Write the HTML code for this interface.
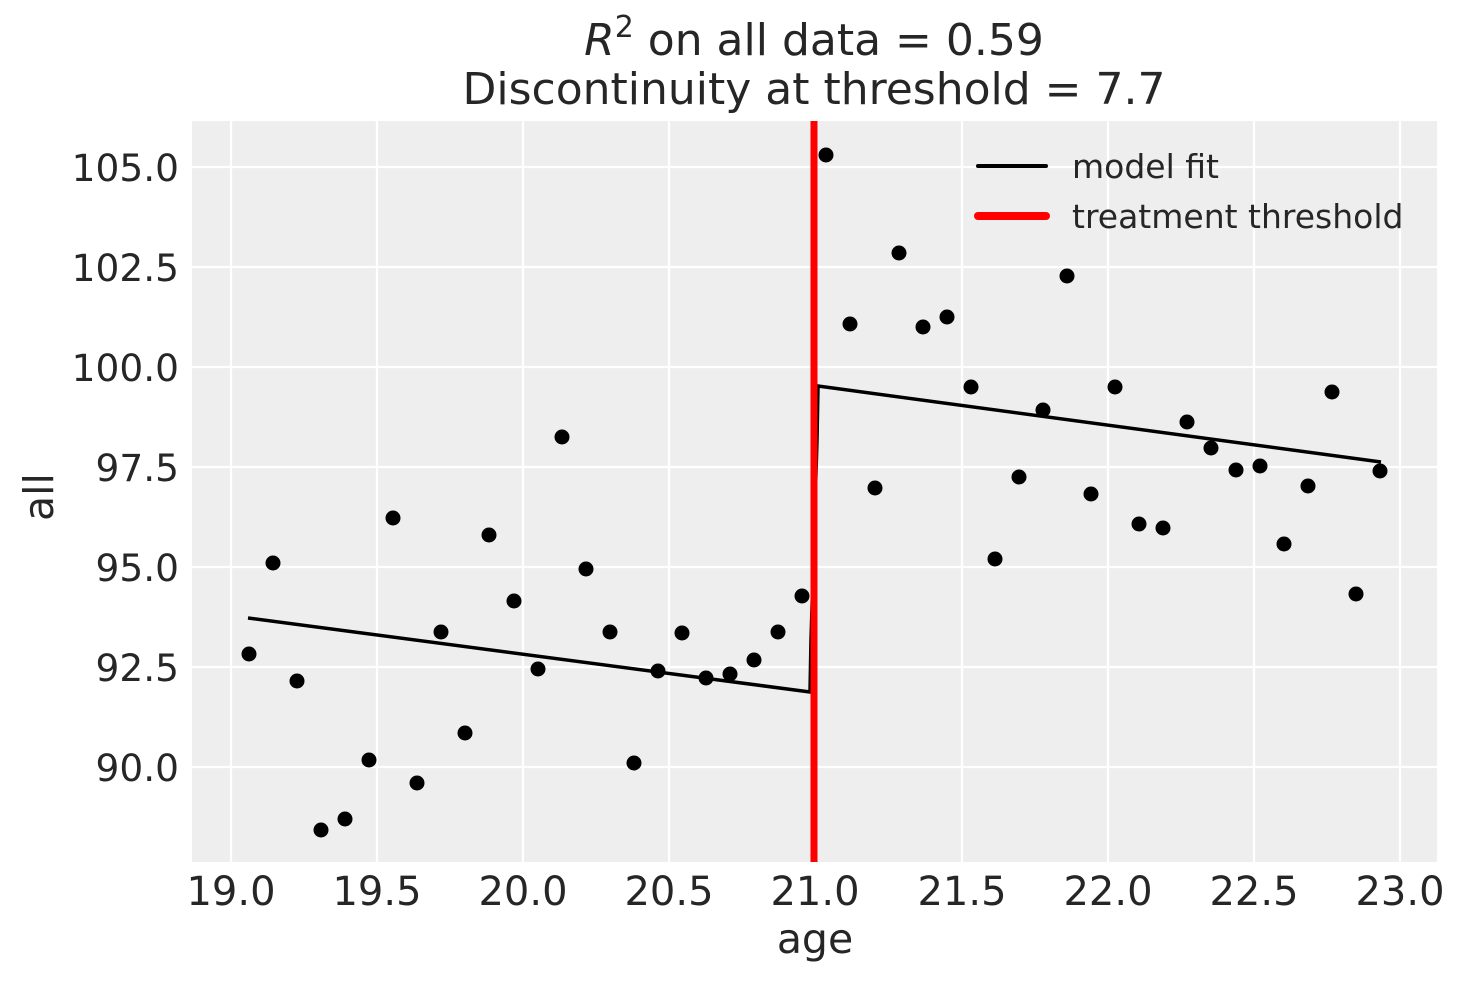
<!DOCTYPE html>
<html><head><meta charset="utf-8"><style>
html,body{margin:0;padding:0;background:#fff;}
svg text{font-family:"DejaVu Sans","Liberation Sans",sans-serif;fill:#262626;}
</style></head><body>
<svg width="1463" height="983" xmlns="http://www.w3.org/2000/svg">
<rect x="192" y="121" width="1245" height="741" fill="#eeeeee"/>
<g stroke="#fff" stroke-width="2.2">
<line x1="231" y1="121" x2="231" y2="862"/><line x1="377" y1="121" x2="377" y2="862"/>
<line x1="523" y1="121" x2="523" y2="862"/><line x1="669" y1="121" x2="669" y2="862"/>
<line x1="815.5" y1="121" x2="815.5" y2="862"/><line x1="962" y1="121" x2="962" y2="862"/>
<line x1="1108" y1="121" x2="1108" y2="862"/><line x1="1254" y1="121" x2="1254" y2="862"/>
<line x1="1400" y1="121" x2="1400" y2="862"/>
<line x1="192" y1="167" x2="1437" y2="167"/><line x1="192" y1="267" x2="1437" y2="267"/>
<line x1="192" y1="367" x2="1437" y2="367"/><line x1="192" y1="467" x2="1437" y2="467"/>
<line x1="192" y1="567" x2="1437" y2="567"/><line x1="192" y1="667" x2="1437" y2="667"/>
<line x1="192" y1="767" x2="1437" y2="767"/>
</g>
<g fill="#000">
<circle cx="249" cy="654" r="7.5"/><circle cx="273" cy="563" r="7.5"/><circle cx="297" cy="681" r="7.5"/><circle cx="321" cy="830" r="7.5"/><circle cx="345" cy="819" r="7.5"/><circle cx="369" cy="760" r="7.5"/><circle cx="393" cy="518" r="7.5"/><circle cx="417" cy="783" r="7.5"/><circle cx="441" cy="632" r="7.5"/><circle cx="465" cy="733" r="7.5"/><circle cx="489" cy="535" r="7.5"/><circle cx="514" cy="601" r="7.5"/><circle cx="538" cy="669" r="7.5"/><circle cx="562" cy="437" r="7.5"/><circle cx="586" cy="569" r="7.5"/><circle cx="610" cy="632" r="7.5"/><circle cx="634" cy="763" r="7.5"/><circle cx="658" cy="671" r="7.5"/><circle cx="682" cy="633" r="7.5"/><circle cx="706" cy="678" r="7.5"/><circle cx="730" cy="674" r="7.5"/><circle cx="754" cy="660" r="7.5"/><circle cx="778" cy="632" r="7.5"/><circle cx="802" cy="596" r="7.5"/><circle cx="826" cy="155" r="7.5"/><circle cx="850" cy="324" r="7.5"/><circle cx="875" cy="488" r="7.5"/><circle cx="899" cy="253" r="7.5"/><circle cx="923" cy="327" r="7.5"/><circle cx="947" cy="317" r="7.5"/><circle cx="971" cy="387" r="7.5"/><circle cx="995" cy="559" r="7.5"/><circle cx="1019" cy="477" r="7.5"/><circle cx="1043" cy="410" r="7.5"/><circle cx="1067" cy="276" r="7.5"/><circle cx="1091" cy="494" r="7.5"/><circle cx="1115" cy="387" r="7.5"/><circle cx="1139" cy="524" r="7.5"/><circle cx="1163" cy="528" r="7.5"/><circle cx="1187" cy="422" r="7.5"/><circle cx="1211" cy="448" r="7.5"/><circle cx="1236" cy="470" r="7.5"/><circle cx="1260" cy="466" r="7.5"/><circle cx="1284" cy="544" r="7.5"/><circle cx="1308" cy="486" r="7.5"/><circle cx="1332" cy="392" r="7.5"/><circle cx="1356" cy="594" r="7.5"/><circle cx="1380" cy="471" r="7.5"/>
</g>
<polyline points="248,618 810,692 811,640 817,440 818,386 1381,462" fill="none" stroke="#000" stroke-width="3.5"/>
<line x1="814" y1="121" x2="814" y2="862" stroke="#ff0000" stroke-width="7"/>
<line x1="978" y1="166" x2="1046" y2="166" stroke="#000" stroke-width="4" stroke-linecap="round"/>
<line x1="978" y1="216" x2="1046" y2="216" stroke="#ff0000" stroke-width="8" stroke-linecap="round"/>
<text x="1072" y="178" font-size="33">model fit</text>
<text x="1072" y="228" font-size="33">treatment threshold</text>
<g font-size="37.5" text-anchor="end">
<text x="179" y="181">105.0</text><text x="179" y="281">102.5</text><text x="179" y="381">100.0</text>
<text x="179" y="481">97.5</text><text x="179" y="581">95.0</text><text x="179" y="681">92.5</text><text x="179" y="781">90.0</text>
</g>
<g font-size="40" text-anchor="middle">
<text x="231" y="905">19.0</text><text x="377" y="905">19.5</text><text x="523" y="905">20.0</text>
<text x="669" y="905">20.5</text><text x="815" y="905">21.0</text><text x="962" y="905">21.5</text>
<text x="1108" y="905">22.0</text><text x="1254" y="905">22.5</text><text x="1400" y="905">23.0</text>
<text x="815" y="953" font-size="41">age</text>
<text x="814" y="55" font-size="44"><tspan font-style="oblique">R</tspan><tspan font-size="30" dy="-18">2</tspan><tspan dy="18"> on all data = 0.59</tspan></text>
<text x="814" y="104" font-size="44">Discontinuity at threshold = 7.7</text>
</g>
<text x="0" y="0" font-size="41" text-anchor="middle" transform="translate(53,497) rotate(-90)">all</text>
</svg>
</body></html>
